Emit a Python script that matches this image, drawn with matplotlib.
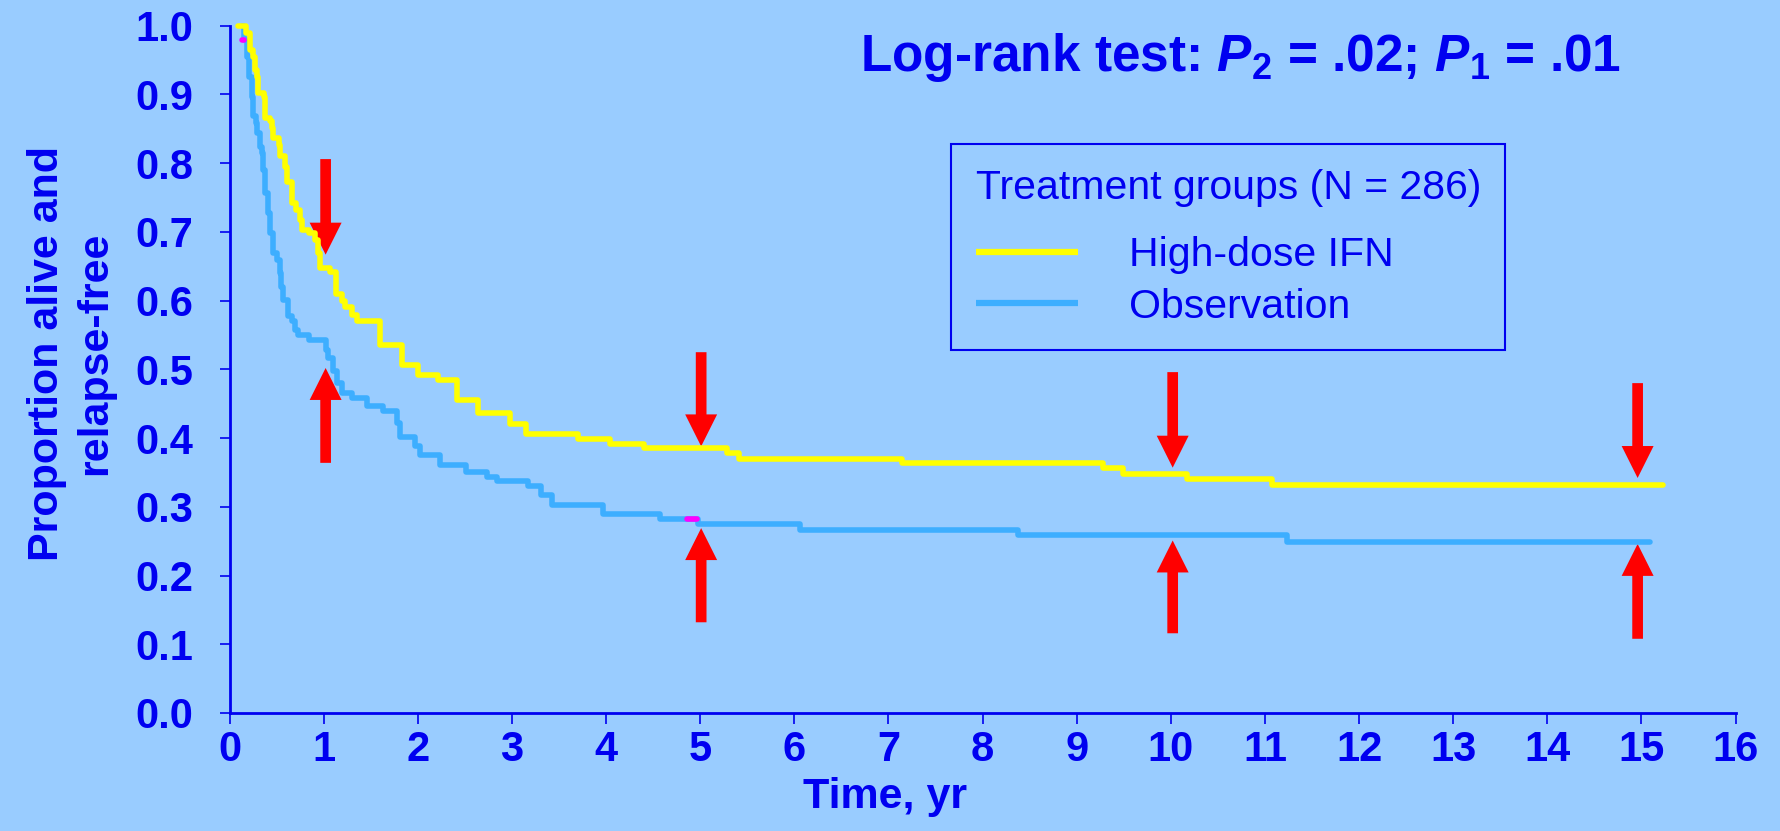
import matplotlib
matplotlib.use("Agg")
from matplotlib import pyplot as plt

# Kaplan-Meier steps (time in yr, value from that time on)
ifn_t = [0.09, 0.17, 0.22, 0.25, 0.27, 0.29, 0.305, 0.36, 0.376, 0.43, 0.45, 0.46, 0.52, 0.535,
         0.59, 0.61, 0.66, 0.71, 0.75, 0.77, 0.84, 0.91, 0.94, 0.96, 1.07, 1.13, 1.19, 1.23,
         1.30, 1.35, 1.60, 1.83, 2.00, 2.21, 2.42, 2.64, 2.98, 3.15, 3.70, 4.04, 4.40, 5.28,
         5.41, 7.14, 9.28, 9.49, 10.17, 11.07, 15.23]
ifn_s = [1.0, 0.989, 0.965, 0.955, 0.936, 0.926, 0.902, 0.897, 0.866, 0.861, 0.851, 0.837, 0.827, 0.810,
         0.795, 0.773, 0.742, 0.732, 0.718, 0.703, 0.699, 0.688, 0.669, 0.647, 0.642, 0.609, 0.599, 0.591,
         0.579, 0.570, 0.536, 0.507, 0.492, 0.485, 0.456, 0.436, 0.420, 0.406, 0.399, 0.392, 0.385, 0.378,
         0.370, 0.364, 0.356, 0.348, 0.341, 0.332, 0.332]

obs_t = [0.13, 0.15, 0.18, 0.21, 0.235, 0.25, 0.28, 0.29, 0.32, 0.34, 0.35, 0.376, 0.41, 0.43,
         0.46, 0.50, 0.53, 0.55, 0.57, 0.62, 0.66, 0.69, 0.73, 0.84, 1.02, 1.05, 1.10, 1.14,
         1.19, 1.30, 1.46, 1.63, 1.78, 1.81, 1.97, 2.02, 2.24, 2.51, 2.73, 2.84, 3.17, 3.31,
         3.42, 3.97, 4.57, 4.98, 6.06, 8.38, 11.23, 15.09]
obs_s = [1.0, 0.98, 0.955, 0.926, 0.897, 0.868, 0.858, 0.844, 0.824, 0.815, 0.790, 0.756, 0.727, 0.698,
         0.669, 0.659, 0.640, 0.620, 0.601, 0.577, 0.570, 0.557, 0.550, 0.543, 0.528, 0.516, 0.497, 0.480,
         0.465, 0.458, 0.446, 0.439, 0.422, 0.402, 0.388, 0.376, 0.361, 0.351, 0.344, 0.337, 0.331, 0.317,
         0.303, 0.289, 0.282, 0.275, 0.267, 0.259, 0.249, 0.249]

# censor ticks (magenta)
cens_t0 = [0.13, 4.86]
cens_t1 = [0.15, 4.97]
cens_s = [0.979, 0.282]

# red arrows at landmark years
arrow_years = [1.02, 5.01, 10.02, 14.96]
down_tail = [0.806, 0.525, 0.496, 0.480]
down_tip = [0.667, 0.388, 0.357, 0.342]
up_tail = [0.364, 0.132, 0.116, 0.108]
up_tip = [0.502, 0.269, 0.251, 0.246]

xticks = list(range(0, 17))
yticks = [0.0, 0.1, 0.2, 0.3, 0.4, 0.5, 0.6, 0.7, 0.8, 0.9, 1.0]

BG = "#99CCFF"
BLUE = "#0000F0"
plt.rcParams['font.family'] = ['Liberation Sans', 'DejaVu Sans']
plt.rcParams['mathtext.fontset'] = 'custom'
plt.rcParams['mathtext.bf'] = 'Liberation Sans:bold'
plt.rcParams['mathtext.bfit'] = 'Liberation Sans:italic:bold'
plt.rcParams['mathtext.rm'] = 'Liberation Sans:bold'

fig = plt.figure(figsize=(17.8, 8.31), dpi=100, facecolor=BG)
ax = fig.add_axes([0.129, 0.142, 0.846, 0.827], facecolor=BG)

for i in range(len(arrow_years)):
    for tail, tip in [(down_tail[i], down_tip[i]), (up_tail[i], up_tip[i])]:
        ax.annotate('', xy=(arrow_years[i], tip), xytext=(arrow_years[i], tail),
                    arrowprops=dict(arrowstyle='simple,head_length=2.3,head_width=2.3,tail_width=0.77',
                                    mutation_scale=10, color='#FF0000', lw=0,
                                    shrinkA=0, shrinkB=0), zorder=1)

l1, = ax.step(ifn_t, ifn_s, where='post', color='#FFFF00', lw=4, clip_on=False,
              solid_capstyle='round', solid_joinstyle='round', zorder=3)
l2, = ax.step(obs_t, obs_s, where='post', color='#3DAEFF', lw=4, clip_on=False,
              solid_capstyle='round', solid_joinstyle='round', zorder=2)
for i in range(len(cens_s)):
    ax.plot([cens_t0[i], cens_t1[i]], [cens_s[i], cens_s[i]], color='#FF00FF', lw=4,
            solid_capstyle='round', clip_on=False, zorder=4)

ax.set_xlim(0, 16)
ax.set_ylim(0, 1.0)
ax.set_xticks(xticks)
ax.set_xticklabels([str(v) for v in xticks])
ax.set_yticks(yticks)
ax.set_yticklabels([f"{v:.1f}" for v in yticks])
ax.spines['top'].set_visible(False)
ax.spines['right'].set_visible(False)
for s in ['left', 'bottom']:
    ax.spines[s].set_color(BLUE)
    ax.spines[s].set_linewidth(2)
ax.tick_params(axis='x', colors=BLUE, labelsize=30, length=8, width=1.2, pad=4, direction='out')
ax.tick_params(axis='y', colors=BLUE, labelsize=30, length=7, width=1.2, pad=19, direction='out')
for lab in ax.get_xticklabels() + ax.get_yticklabels():
    lab.set_fontweight('bold')

ax.set_xlabel("Time, yr", fontsize=31, fontweight='bold', color=BLUE)
ax.xaxis.set_label_coords(0.435, -0.093)
ax.set_ylabel("Proportion alive and\nrelapse-free", fontsize=31, fontweight='bold',
              color=BLUE, linespacing=1.25)
ax.yaxis.set_label_coords(-0.076, 0.523)

ax.text(0.671, 0.934, r"Log-rank test: $\mathbfit{P}_\mathbf{2}$ = .02; $\mathbfit{P}_\mathbf{1}$ = .01",
        transform=ax.transAxes, ha='center', va='baseline', fontsize=37, fontweight='bold', color=BLUE)

leg = ax.legend([l1, l2], ["High-dose IFN", "Observation"], title="Treatment groups (N = 286)",
                loc='upper left', bbox_to_anchor=(0.479, 0.828), borderaxespad=0,
                prop={'size': 29.5}, title_fontsize=29.5,
                alignment='left', handlelength=2.5, handletextpad=1.25, labelspacing=0.32,
                borderpad=0.6, fancybox=False, framealpha=1, facecolor=BG, edgecolor=BLUE)
leg._legend_box.sep = 21.5
leg.get_frame().set_linewidth(1.5)
leg.get_title().set_color(BLUE)
for t in leg.get_texts():
    t.set_color(BLUE)
for h in leg.legend_handles:
    h.set_linewidth(4.5)
    h.set_solid_capstyle('butt')

fig.savefig("out.png", dpi=100, facecolor=BG)
